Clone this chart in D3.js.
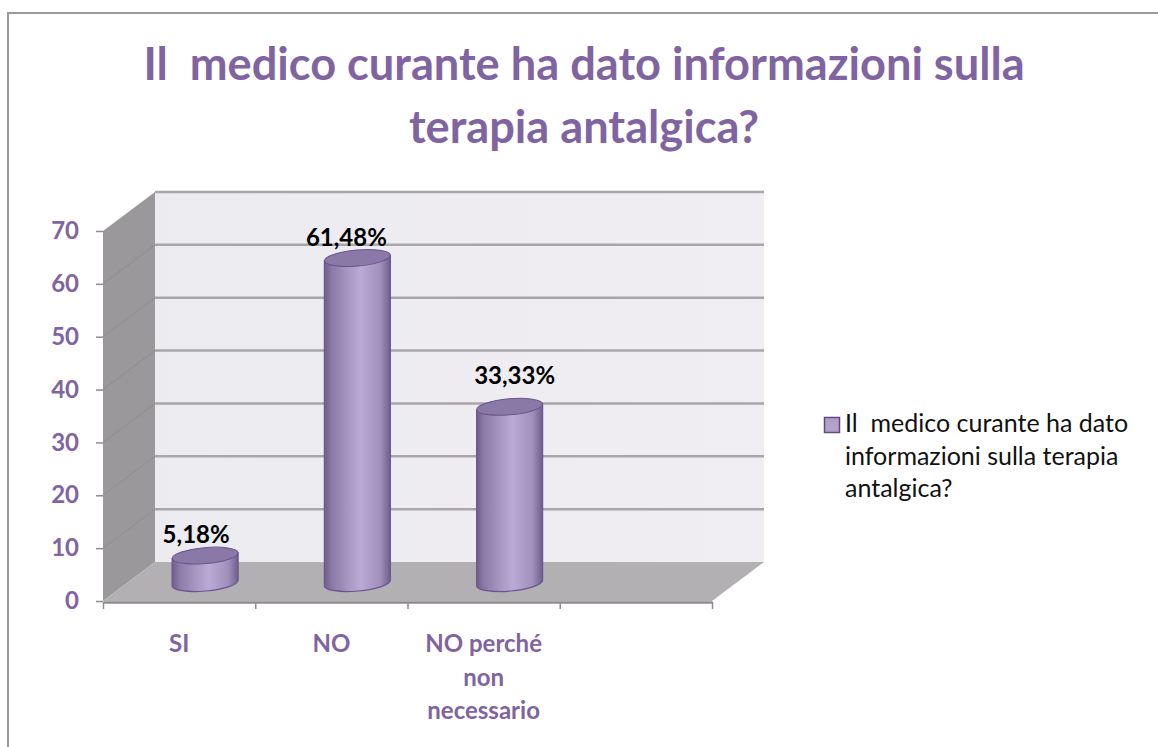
<!DOCTYPE html>
<html>
<head>
<meta charset="utf-8">
<script src="https://cdn.jsdelivr.net/npm/d3@7"></script>
<style>
  html, body { margin: 0; padding: 0; background: #fff; }
  svg { display: block; }
  text { font-family: Lato, "Open Sans", sans-serif; }
</style>
</head>
<body>
<div id="chart"></div>
<script>
// values
const categories = ["SI", "NO", "NO perché non necessario", ""];
const categoryLines = [["SI"], ["NO"], ["NO perché", "non", "necessario"], []];
const percentages = [5.18, 61.48, 33.33];
const percentLabels = ["5,18%", "61,48%", "33,33%"];
const yTicks = [0, 10, 20, 30, 40, 50, 60, 70];
const titleLines = ["Il  medico curante ha dato informazioni sulla", "terapia antalgica?"];
const legendLines = ["Il  medico curante ha dato", "informazioni sulla terapia", "antalgica?"];

const width = 1158, height = 747;
const depthX = 52, depthY = 39;   // how far the back wall is pushed back
const purple = "#8064a2";

const svg = d3.select("#chart").append("svg")
  .attr("width", width)
  .attr("height", height);

const defs = svg.append("defs");

const barGrad = defs.append("linearGradient").attr("id", "barGrad");
barGrad.append("stop").attr("offset", "0%").attr("stop-color", "#6f5e8c");
barGrad.append("stop").attr("offset", "12%").attr("stop-color", "#8d7ca9");
barGrad.append("stop").attr("offset", "55%").attr("stop-color", "#bcaad6");
barGrad.append("stop").attr("offset", "85%").attr("stop-color", "#a08fba");
barGrad.append("stop").attr("offset", "100%").attr("stop-color", "#6f5e8c");

const wallGrad = defs.append("linearGradient").attr("id", "wallGrad");
wallGrad.append("stop").attr("offset", "0%").attr("stop-color", "#ecebf0");
wallGrad.append("stop").attr("offset", "100%").attr("stop-color", "#f0eef3");

// front axis scales
const y = d3.scaleLinear().domain([0, 70]).range([601, 231]);
const x = d3.scaleBand().domain(categories).range([103, 712]);
const xEdges = d3.scaleLinear().domain([0, categories.length]).range([103, 712]);

// outer frame, only top and left are visible
svg.append("path")
  .attr("d", `M8,${height}V13H${width}`)
  .attr("fill", "none")
  .attr("stroke", "#999")
  .attr("stroke-width", 2);

// title
svg.append("g").selectAll("text")
  .data(titleLines)
  .join("text")
  .attr("x", 584)
  .attr("y", (d, i) => 80 + i * 63)
  .attr("text-anchor", "middle")
  .attr("font-size", 45.2)
  .attr("font-weight", 700)
  .attr("fill", purple)
  .style("white-space", "pre")
  .text(d => d);

const x0 = x.range()[0], x1 = x.range()[1];

// back wall
svg.append("rect")
  .attr("x", x0 + depthX)
  .attr("y", y(70) - depthY)
  .attr("width", x1 - x0)
  .attr("height", y(0) - y(70))
  .attr("fill", "url(#wallGrad)");

// gridlines on back wall
svg.append("g").selectAll("line")
  .data(yTicks.filter(d => d > 0))
  .join("line")
  .attr("x1", x0 + depthX)
  .attr("x2", x1 + depthX)
  .attr("y1", d => y(d) - depthY)
  .attr("y2", d => y(d) - depthY)
  .attr("stroke", "#a8a6a9")
  .attr("stroke-width", 2.5);

// left wall
svg.append("path")
  .attr("d", `M${x0},${y(70)}L${x0 + depthX},${y(70) - depthY}V${y(0) - depthY}L${x0},${y(0)}Z`)
  .attr("fill", "#9b989b");

svg.append("g").selectAll("line")
  .data(yTicks.filter(d => d > 0 && d < 70))
  .join("line")
  .attr("x1", x0)
  .attr("x2", x0 + depthX)
  .attr("y1", d => y(d))
  .attr("y2", d => y(d) - depthY)
  .attr("stroke", "#908d90")
  .attr("stroke-width", 1);

// floor
svg.append("path")
  .attr("d", `M${x0},${y(0)}L${x0 + depthX},${y(0) - depthY}H${x1 + depthX}L${x1},${y(0)}Z`)
  .attr("fill", "#b2b0b3");

// axes, labels come from the axis for y only
const yAxis = svg.append("g")
  .attr("transform", `translate(${x0},0)`)
  .call(d3.axisLeft(y).tickValues(yTicks).tickSize(7).tickPadding(17));
yAxis.select(".domain").remove();
yAxis.selectAll("line").attr("stroke", "#8c8c8c").attr("stroke-width", 1.5);
yAxis.selectAll("text")
  .attr("font-size", 24)
  .attr("font-weight", 700)
  .attr("fill", purple);

const xAxis = svg.append("g")
  .attr("transform", `translate(0,${y(0) + 1})`)
  .call(d3.axisBottom(xEdges).tickValues(d3.range(categories.length + 1)).tickSize(7).tickSizeOuter(0).tickFormat(""));
xAxis.select(".domain").attr("stroke", "#8c8c8c").attr("stroke-width", 2.5);
xAxis.selectAll("line").attr("stroke", "#8c8c8c").attr("stroke-width", 1.5);

// category labels
svg.append("g").selectAll("text")
  .data(categories.slice(0, 3))
  .join("text")
  .attr("text-anchor", "middle")
  .attr("font-size", 24)
  .attr("font-weight", 700)
  .attr("fill", purple)
  .selectAll("tspan")
  .data((d, i) => categoryLines[i].map(line => ({ line, cat: d })))
  .join("tspan")
  .attr("x", d => x(d.cat) + x.bandwidth() / 2)
  .attr("y", (d, i) => 652 + i * 33.5)
  .text(d => d.line);

// cylinders, standing half way into the floor
const barRx = 33, barRy = 8, barTilt = -5;
const barBase = y(0) - 18;
const barHeight = v => y(0) - y(v);
const barCx = i => x(categories[i]) + x.bandwidth() / 2 + depthX / 2;

const bars = svg.append("g").selectAll("g")
  .data(percentages)
  .join("g");

bars.append("path")
  .attr("d", (d, i) => {
    const cx = barCx(i), top = barBase - barHeight(d);
    const dy = barRx * Math.sin(-barTilt * Math.PI / 180);
    return `M${cx - barRx},${top + dy}L${cx + barRx},${top - dy}L${cx + barRx},${barBase - dy}` +
      `A${barRx},${barRy} ${barTilt} 0 1 ${cx - barRx},${barBase + dy}Z`;
  })
  .attr("fill", "url(#barGrad)")
  .attr("stroke", "#6b5590")
  .attr("stroke-width", 1.2);

bars.append("ellipse")
  .attr("transform", (d, i) => `translate(${barCx(i)},${barBase - barHeight(d)}) rotate(${barTilt})`)
  .attr("rx", barRx)
  .attr("ry", barRy)
  .attr("fill", "#8a78a6")
  .attr("stroke", "#6b5590")
  .attr("stroke-width", 1);

// percent labels are hand placed in the reference, not centred on the bars
const labelDx = [-9, -11, 5];
const labelDy = [13, 12, 23];
svg.append("g").selectAll("text")
  .data(percentLabels)
  .join("text")
  .attr("x", (d, i) => barCx(i) + labelDx[i])
  .attr("y", (d, i) => barBase - barHeight(percentages[i]) - labelDy[i])
  .attr("text-anchor", "middle")
  .attr("font-size", 24)
  .attr("font-weight", 700)
  .attr("fill", "#000")
  .text(d => d);

// legend
svg.append("rect")
  .attr("x", 824.5)
  .attr("y", 417.5)
  .attr("width", 15)
  .attr("height", 15)
  .attr("fill", "#b3a2c7")
  .attr("stroke", "#5f4b7c")
  .attr("stroke-width", 1.5);

svg.append("g").selectAll("text")
  .data(legendLines)
  .join("text")
  .attr("x", 845)
  .attr("y", (d, i) => 432 + i * 32.5)
  .attr("font-size", 25)
  .attr("fill", "#111")
  .style("white-space", "pre")
  .text(d => d);
</script>
</body>
</html>
